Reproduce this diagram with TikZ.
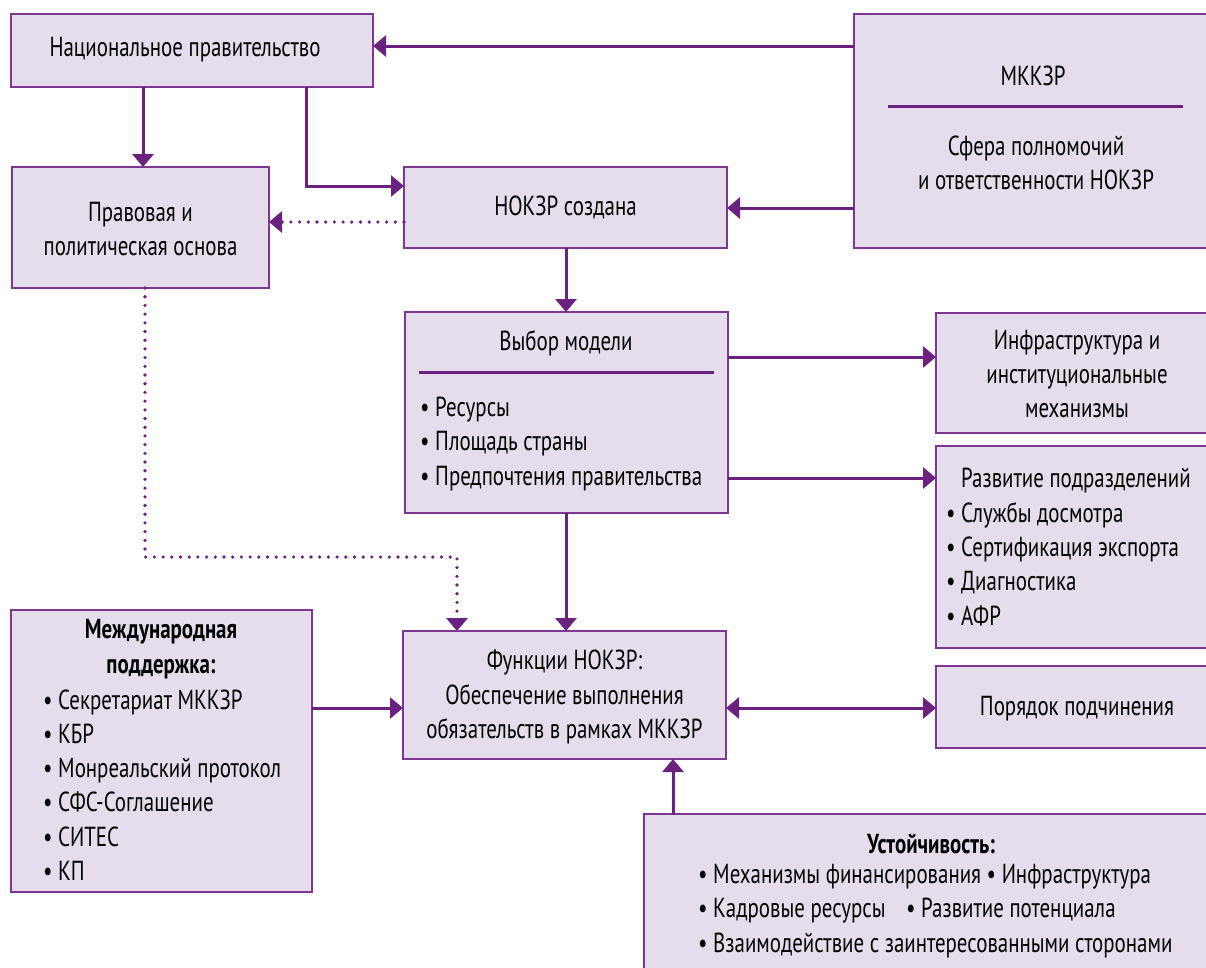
\documentclass[tikz,border=0pt]{standalone}
\usepackage{fontspec}
\setmainfont{PT Sans}[FakeStretch=0.76]
\usetikzlibrary{arrows.meta}
\definecolor{pline}{RGB}{107,33,127}
\definecolor{pborder}{RGB}{125,55,145}
\definecolor{pfill}{RGB}{229,221,236}
\begin{document}
\begin{tikzpicture}[x=1pt,y=-1pt,
  box/.style={draw=pborder, line width=1.6pt, fill=pfill, inner sep=0pt, outer sep=0pt},
  conn/.style={draw=pline, line width=3pt, -{Triangle[length=13pt,width=21pt]}},
  dconn/.style={conn, line width=3.6pt, line cap=round, dash pattern=on 0pt off 8.7pt},
  sepline/.style={draw=pline, line width=3pt},
  txt/.style={font=\fontsize{27.5}{34.3}\selectfont, align=center, inner sep=0pt},
  ltxt/.style={font=\fontsize{27.5}{34.3}\selectfont, align=left, inner sep=0pt, anchor=west},
  btxt/.style={font=\bfseries\fontsize{27.5}{34.3}\selectfont, align=center, inner sep=0pt}]
\useasboundingbox (0,0) rectangle (1206,967);
\fill[white] (0,0) rectangle (1206,967);

% boxes
\node[box, minimum width=362pt, minimum height=73pt] (gov) at (192,50.5) {};
\node[box, minimum width=257pt, minimum height=121pt] (legal) at (140.5,227.5) {};
\node[box, minimum width=323pt, minimum height=81pt] (nokzr) at (565.5,207.5) {};
\node[box, minimum width=356pt, minimum height=234pt] (ippc) at (1032,131) {};
\node[box, minimum width=323pt, minimum height=201pt] (model) at (566.5,412.5) {};
\node[box, minimum width=274pt, minimum height=120pt] (infra) at (1073,373) {};
\node[box, minimum width=274pt, minimum height=202pt] (dev) at (1073,547) {};
\node[box, minimum width=323pt, minimum height=128pt] (func) at (564.5,695) {};
\node[box, minimum width=274pt, minimum height=82pt] (order) at (1073,707) {};
\node[box, minimum width=301pt, minimum height=282pt] (intl) at (161.5,751) {};
\node[box, minimum width=567pt, minimum height=160pt] (sust) at (927.5,894) {};

% texts
\node[txt] (govt) at (185,50) {Национальное правительство};
\node[txt] (legalt) at (140.5,229) {Правовая и\\политическая основа};
\node[txt] (nokzrt) at (565.5,207) {НОКЗР создана};
\node[txt] (ippct) at (1033,76) {МККЗР};
\draw[sepline] (888,106) -- (1183,106);
\node[txt] (ippcs) at (1036,163) {Сфера полномочий\\и ответственности НОКЗР};
\node[txt] (modelt) at (566,343) {Выбор модели};
\draw[sepline] (419,372) -- (714,372);
\node[ltxt] (modell) at (420,444) {• Ресурсы\\• Площадь страны\\• Предпочтения правительства};
\node[txt] (infrat) at (1077,374) {Инфраструктура и\\институциональные\\механизмы};
\node[ltxt] (devt) at (946,547) {\phantom{• }Развитие подразделений\\• Службы досмотра\\• Сертификация экспорта\\• Диагностика\\• АФР};
\node[txt] (funct) at (564.5,697) {Функции НОКЗР:\\Обеспечение выполнения\\обязательств в рамках МККЗР};
\node[txt] (ordert) at (1077,709) {Порядок подчинения};
\node[btxt] (intlt) at (161,649) {Международная\\поддержка:};
\node[ltxt] (intll) at (43,785) {• Секретариат МККЗР\\• КБР\\• Монреальский протокол\\• СФС-Соглашение\\• СИТЕС\\• КП};
\node[btxt] (sustt) at (931,844) {Устойчивость:};
\node[ltxt] (sustl) at (698,911) {• Механизмы финансирования • Инфраструктура\\\makebox[208pt][l]{• Кадровые ресурсы}• Развитие потенциала\\• Взаимодействие с заинтересованными сторонами};

% connectors
\draw[conn] (ippc.west |- 0,46) -- (gov.east |- 0,46);
\draw[conn] (ippc.west |- 0,208) -- (nokzr.east |- 0,208);
\draw[conn] (gov.south -| 143,0) -- (legal.north -| 143,0);
\draw[conn] (gov.south -| 306,0) |- (nokzr.west |- 0,186);
\draw[dconn] (nokzr.west |- 0,222) -- (legal.east |- 0,222);
\draw[conn] (nokzr.south -| 566,0) -- (model.north -| 566,0);
\draw[conn] (model.east |- 0,357) -- (infra.west |- 0,357);
\draw[conn] (model.east |- 0,478) -- (dev.west |- 0,478);
\draw[conn] (model.south -| 566,0) -- (func.north -| 566,0);
\coordinate (bend) at (457,557);
\draw[dconn] (legal.south -| 145,0) |- (bend) -- (func.north -| bend);
\draw[conn] (intl.east |- 0,708) -- (func.west |- 0,708);
\draw[conn, {Triangle[length=13pt,width=21pt]}-{Triangle[length=13pt,width=21pt]}] (func.east |- 0,708) -- (order.west |- 0,708);
\draw[conn] (sust.north -| 673,0) -- (func.south -| 673,0);
\end{tikzpicture}
\end{document}
